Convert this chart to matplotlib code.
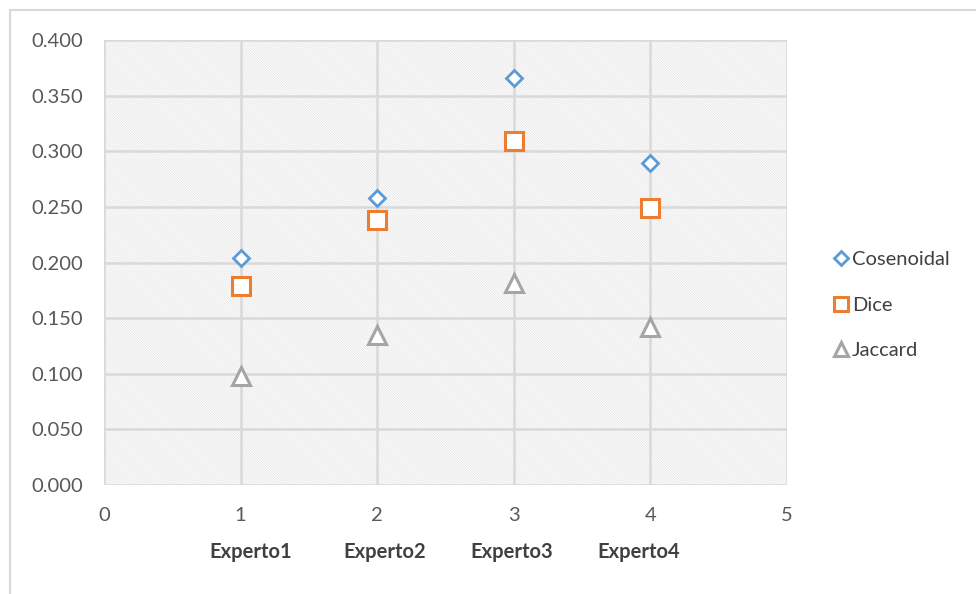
import matplotlib
matplotlib.use("Agg")
import matplotlib.pyplot as plt
from matplotlib.patches import Rectangle
from matplotlib.lines import Line2D

# Similarity scores per expert
expert_pos = [1, 2, 3, 4]
expert_names = ["Experto1", "Experto2", "Experto3", "Experto4"]
cosenoidal = [0.204, 0.258, 0.366, 0.289]
dice = [0.179, 0.238, 0.309, 0.249]
jaccard = [0.098, 0.135, 0.182, 0.142]
x_ticks = [0, 1, 2, 3, 4, 5]
y_ticks = [0.0, 0.05, 0.10, 0.15, 0.20, 0.25, 0.30, 0.35, 0.40]

plt.rcParams["font.family"] = ["Lato", "DejaVu Sans"]
plt.rcParams["hatch.linewidth"] = 0.4
plt.rcParams["hatch.color"] = "#dcdcdc"

W, H = 976, 594
fig = plt.figure(figsize=(W / 100, H / 100), dpi=100)

# outer chart border
fig.patches.append(Rectangle((10 / W, -0.1), 1.2, (H - 10) / H + 0.1,
                             transform=fig.transFigure, fill=False,
                             edgecolor="#d9d9d9", linewidth=1.5, zorder=0))

left, right, top, bottom = 104, 787, 40, 485
ax = fig.add_axes([left / W, 1 - bottom / H, (right - left) / W, (bottom - top) / H])
ax.set_xlim(0, 5)
ax.set_ylim(0, 0.4)

# hatched plot-area background
ax.add_patch(Rectangle((0, 0), 1, 1, transform=ax.transAxes, facecolor="white",
                       edgecolor="#dcdcdc", hatch="\\" * 14, linewidth=0, zorder=0))

for s in ax.spines.values():
    s.set_visible(False)
ax.set_xticks(x_ticks)
ax.set_yticks(y_ticks)
ax.set_yticklabels([f"{v:.3f}" for v in y_ticks])
ax.grid(True, color="#d9d9d9", linewidth=1.8, zorder=1)
ax.set_axisbelow(False)
ax.tick_params(length=0, labelsize=14.5, labelcolor="#595959")
ax.tick_params(axis="x", pad=16)
ax.tick_params(axis="y", pad=15)
for lbl in ax.get_yticklabels() + ax.get_xticklabels():
    lbl.set_clip_on(False)

c_blue, c_orange, c_gray = "#5b9bd5", "#ed7d31", "#a5a5a5"
ax.plot(expert_pos, cosenoidal, linestyle="none", marker="D", markersize=8,
        markerfacecolor="white", markeredgecolor=c_blue, markeredgewidth=2,
        zorder=3, clip_on=False, label="Cosenoidal")
ax.plot(expert_pos, dice, linestyle="none", marker="s", markersize=13,
        markerfacecolor="white", markeredgecolor=c_orange, markeredgewidth=2.2,
        zorder=3, clip_on=False, label="Dice")
ax.plot(expert_pos, jaccard, linestyle="none", marker="^", markersize=13,
        markerfacecolor="white", markeredgecolor=c_gray, markeredgewidth=2.2,
        zorder=3, clip_on=False, label="Jaccard")

# expert names under the x axis
name_x = [251, 385, 512, 639]
for nx, name in zip(name_x, expert_names):
    fig.text(nx / W, 1 - 552 / H, name, ha="center", va="center",
             fontsize=14.5, fontweight="bold", color="#404040")

handles = [
    Line2D([], [], linestyle="none", marker="D", markersize=7, markerfacecolor="white",
           markeredgecolor=c_blue, markeredgewidth=2),
    Line2D([], [], linestyle="none", marker="s", markersize=10, markerfacecolor="white",
           markeredgecolor=c_orange, markeredgewidth=2.2),
    Line2D([], [], linestyle="none", marker="^", markersize=10, markerfacecolor="white",
           markeredgecolor=c_gray, markeredgewidth=2.2),
]
leg = fig.legend(handles, ["Cosenoidal", "Dice", "Jaccard"], loc="center left",
                 bbox_to_anchor=(825 / W, 1 - 305 / H), frameon=False,
                 fontsize=14.5, handlelength=0.8, handletextpad=0.15,
                 labelspacing=1.4, borderaxespad=0)
for t in leg.get_texts():
    t.set_color("#404040")

fig.savefig("out.png", dpi=100)
